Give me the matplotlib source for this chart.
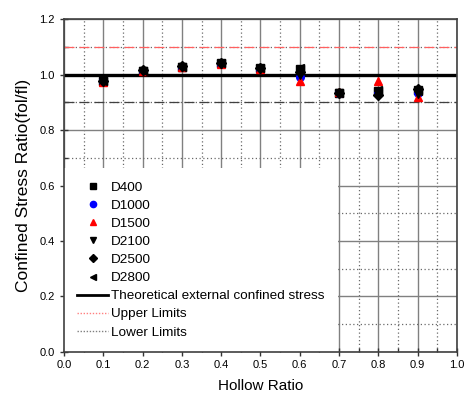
import numpy as np
import matplotlib.pyplot as plt
from matplotlib.lines import Line2D

plt.rcParams['font.family'] = ['Liberation Sans', 'DejaVu Sans']

hollow_ratio = [0.1, 0.2, 0.3, 0.4, 0.5, 0.6, 0.7, 0.8, 0.9]
d400 = [0.975, 1.013, 1.027, 1.040, 1.022, 1.020, 0.934, 0.940, 0.945]
d1000 = [0.976, 1.014, 1.028, 1.039, 1.021, 0.992, 0.935, 0.935, 0.935]
d1500 = [0.972, 1.012, 1.026, 1.038, 1.020, 0.978, 0.938, 0.977, 0.918]
d2100 = [0.975, 1.014, 1.028, 1.038, 1.021, 0.998, 0.932, 0.930, 0.930]
d2500 = [0.977, 1.015, 1.029, 1.041, 1.023, 1.010, 0.934, 0.926, 0.948]
d2800 = [0.976, 1.014, 1.028, 1.040, 1.022, 1.022, 0.935, 0.944, 0.940]

theory = 1.0
upper = 1.1
lower = 0.9

series = [
    ('D400', d400, 's', 'black'),
    ('D1000', d1000, 'o', 'blue'),
    ('D1500', d1500, '^', 'red'),
    ('D2100', d2100, 'v', 'black'),
    ('D2500', d2500, 'D', 'black'),
    ('D2800', d2800, '<', 'black'),
]

fig = plt.figure(figsize=(4.67, 4.01), dpi=100)
ax = fig.add_axes([0.137, 0.1222, 0.8415, 0.8304])

# grid: solid major, dotted minor
ax.set_xticks(np.arange(0, 1.01, 0.1))
ax.set_xticks(np.arange(0.05, 1.0, 0.1), minor=True)
ax.set_yticks(np.arange(0, 1.21, 0.2))
ax.set_yticks(np.arange(0.1, 1.2, 0.2), minor=True)
ax.grid(which='major', color='#808080', linestyle='-', linewidth=1.0)
ax.grid(which='minor', color='#6a6a6a', linestyle=(0, (1, 2)), linewidth=0.9)
ax.set_axisbelow(True)

ax.axhline(upper, color='#ff6060', linestyle=(0, (8, 4)), linewidth=0.9, zorder=2)
ax.axhline(lower, color='#404040', linestyle=(0, (8, 4)), linewidth=0.9, zorder=2)
ax.axhline(theory, color='black', linewidth=2.4, zorder=2)

handles = []
for name, vals, mk, col in series:
    ax.plot(hollow_ratio, vals, linestyle='none', marker=mk, color=col,
            markersize=5.5, zorder=3)
    handles.append(Line2D([], [], linestyle='none', marker=mk, color=col,
                          markersize=4.5, label=name))
handles.append(Line2D([], [], color='black', linewidth=2.0,
                      label='Theoretical external confined stress'))
handles.append(Line2D([], [], color='#ff8080', linestyle=(0, (1, 1.2)),
                      linewidth=1.0, label='Upper Limits'))
handles.append(Line2D([], [], color='#808080', linestyle=(0, (1, 1.2)),
                      linewidth=1.0, label='Lower Limits'))

leg = ax.legend(handles=handles, loc='lower left', bbox_to_anchor=(0, 0),
                borderaxespad=0, borderpad=1.0, fontsize=9.7, handlelength=2.3,
                handletextpad=0.2, labelspacing=0.42, frameon=True,
                fancybox=False, framealpha=1, facecolor='white')
leg.get_frame().set_edgecolor('none')
leg.set_zorder(4)

ax.set_xlim(0, 1.0)
ax.set_ylim(0, 1.2)
ax.xaxis.set_major_formatter(plt.FormatStrFormatter('%.1f'))
ax.yaxis.set_major_formatter(plt.FormatStrFormatter('%.1f'))
ax.tick_params(which='major', direction='inout', length=6, width=1,
               labelsize=8, color='#333333')
ax.tick_params(which='minor', direction='in', length=3, width=1, color='#333333')
ax.tick_params(axis='x', pad=3)
for s in ax.spines.values():
    s.set_linewidth(1.2)
    s.set_color('#404040')
    s.set_zorder(5)

ax.set_xlabel('Hollow Ratio', fontsize=11, labelpad=6)
ax.set_ylabel('Confined Stress Ratio(fol/fl)', fontsize=12.5, labelpad=6)

fig.savefig('out.png', dpi=100)
